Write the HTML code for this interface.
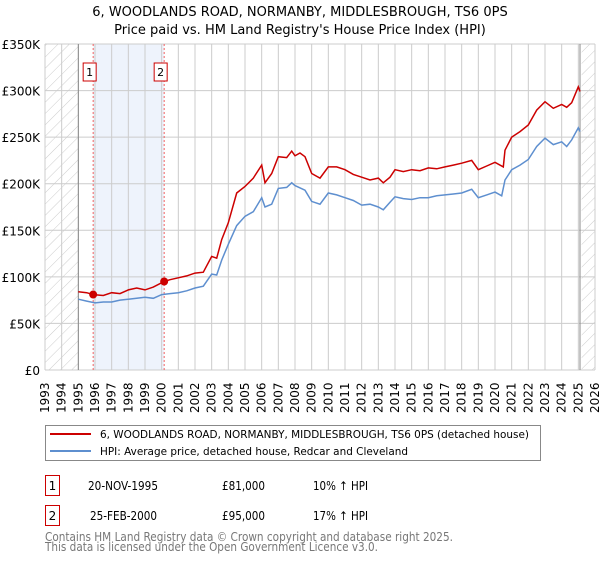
<!DOCTYPE html>
<html><head><meta charset="utf-8"><style>
body{margin:0;background:#fff;font-family:"DejaVu Sans",sans-serif}
svg text{font-family:"DejaVu Sans","Liberation Sans",sans-serif}
</style></head><body>
<svg id="c" width="600" height="560" viewBox="0 0 600 560">
<defs><pattern id="h" width="8" height="8" patternUnits="userSpaceOnUse" patternTransform="rotate(45)"><line x1="0" y1="0" x2="0" y2="8" stroke="#ccc" stroke-width="1"/></pattern></defs>
<text x="300" y="16" text-anchor="middle" font-size="13">6, WOODLANDS ROAD, NORMANBY, MIDDLESBROUGH, TS6 0PS</text>
<text x="300" y="34" text-anchor="middle" font-size="13">Price paid vs. HM Land Registry's House Price Index (HPI)</text>
<g id="grid"></g><g id="marks"></g><g id="axes"></g>
<rect x="45.5" y="425.5" width="495" height="35" fill="#fff" stroke="#888"/>
<line x1="50" y1="434" x2="91" y2="434" stroke="#cc0000" stroke-width="2"/>
<text x="100" y="438" font-size="11" textLength="429" lengthAdjust="spacingAndGlyphs">6, WOODLANDS ROAD, NORMANBY, MIDDLESBROUGH, TS6 0PS (detached house)</text>
<line x1="50" y1="451" x2="91" y2="451" stroke="#5e8fcf" stroke-width="2"/>
<text x="100" y="455" font-size="11" textLength="308" lengthAdjust="spacingAndGlyphs">HPI: Average price, detached house, Redcar and Cleveland</text>
<g>
<rect x="45.5" y="475.5" width="14" height="20" fill="#fff" stroke="#cc0000"/><text x="52.5" y="490" font-size="12" text-anchor="middle">1</text>
<text x="88" y="490" font-size="12" textLength="70" lengthAdjust="spacingAndGlyphs">20-NOV-1995</text><text x="222" y="490" font-size="12" textLength="43" lengthAdjust="spacingAndGlyphs">£81,000</text><text x="313" y="490" font-size="12" textLength="55" lengthAdjust="spacingAndGlyphs">10% ↑ HPI</text></g>
<g>
<rect x="45.5" y="505.5" width="14" height="20" fill="#fff" stroke="#cc0000"/><text x="52.5" y="520" font-size="12" text-anchor="middle">2</text>
<text x="90" y="520" font-size="12" textLength="67" lengthAdjust="spacingAndGlyphs">25-FEB-2000</text><text x="222" y="520" font-size="12" textLength="43" lengthAdjust="spacingAndGlyphs">£95,000</text><text x="313" y="520" font-size="12" textLength="55" lengthAdjust="spacingAndGlyphs">17% ↑ HPI</text></g>
<text x="45" y="541" font-size="12" fill="#777" textLength="408" lengthAdjust="spacingAndGlyphs">Contains HM Land Registry data © Crown copyright and database right 2025.</text>
<text x="45" y="551" font-size="12" fill="#777" textLength="333" lengthAdjust="spacingAndGlyphs">This data is licensed under the Open Government Licence v3.0.</text>
</svg>
<script>
const hpiYears=[1995,1995.5,1996,1996.5,1997,1997.5,1998,1998.5,1999,1999.5,2000,2000.5,2001,2001.5,2002,2002.5,2003,2003.3,2003.6,2004,2004.5,2005,2005.5,2006,2006.2,2006.6,2007,2007.5,2007.8,2008,2008.6,2009,2009.5,2010,2010.5,2011,2011.5,2012,2012.5,2013,2013.3,2013.7,2014,2014.5,2015,2015.5,2016,2016.5,2017,2017.5,2018,2018.6,2019,2019.5,2020,2020.4,2020.6,2021,2021.5,2022,2022.5,2023,2023.5,2024,2024.3,2024.6,2025,2025.1];
const hpiValues=[76,74,72,73,73,75,76,77,78,77,81,82,83,85,88,90,103,102,118,135,155,165,170,185,175,178,195,196,201,198,193,181,178,190,188,185,182,177,178,175,172,180,186,184,183,185,185,187,188,189,190,194,185,188,191,187,204,215,220,226,240,249,242,245,240,247,260,256];
const priceYears=[1995,1995.5,1995.89,1996.5,1997,1997.5,1998,1998.5,1999,1999.5,2000.15,2000.5,2001,2001.5,2002,2002.5,2003,2003.3,2003.6,2004,2004.5,2005,2005.5,2006,2006.2,2006.6,2007,2007.5,2007.8,2008,2008.3,2008.6,2009,2009.5,2010,2010.5,2011,2011.5,2012,2012.5,2013,2013.3,2013.7,2014,2014.5,2015,2015.5,2016,2016.5,2017,2017.5,2018,2018.6,2019,2019.5,2020,2020.5,2020.6,2021,2021.5,2022,2022.5,2023,2023.5,2024,2024.3,2024.6,2025,2025.1];
const priceValues=[84,83,81,80,83,82,86,88,86,89,95,97,99,101,104,105,122,120,140,158,190,197,206,220,201,211,229,228,235,230,233,229,211,206,218,218,215,210,207,204,206,201,207,215,213,215,214,217,216,218,220,222,225,215,219,223,218,236,250,256,263,279,288,281,285,282,287,304,299];
const sales=[[1995.89,81],[2000.15,95]];
const yTicks=[0,50,100,150,200,250,300,350];
const yLabels=["£0","£50K","£100K","£150K","£200K","£250K","£300K","£350K"];
const NS="http://www.w3.org/2000/svg";
const X=y=>45+(y-1993)*550/33, Y=v=>370-v*326/350;
function mk(p,t,a){const e=document.createElementNS(NS,t);for(const k in a)e.setAttribute(k,a[k]);document.getElementById(p).appendChild(e);return e;}
const g='grid';
let e=mk(g,'rect',{x:X(1993),y:Y(350),width:X(1995)-X(1993),height:326,fill:'url(#h)'});


e=mk(g,'rect',{x:X(2025.2),y:Y(350),width:X(2026)-X(2025.2),height:326,fill:'url(#h)'});


e=mk(g,'rect',{x:X(sales[0][0]),y:Y(350),width:X(sales[1][0])-X(sales[0][0]),height:326,fill:'#eef3fc'});


for(let yr=1993;yr<=2026;yr++){e=mk(g,'line',{x1:X(yr),x2:X(yr),y1:Y(0),y2:Y(350),stroke:'#ccc'});


e=mk('axes','text',{x:0,y:0,transform:`translate(${X(yr)+4},413) rotate(-90)`,'font-size':12});e.textContent=yr;

}
yTicks.forEach((v,i)=>{e=mk(g,'line',{x1:X(1993),x2:X(2026),y1:Y(v),y2:Y(v),stroke:'#ccc'});


e=mk('axes','text',{x:40,y:Y(v)+5,'text-anchor':'end','font-size':12});e.textContent=yLabels[i];

});
e=mk(g,'line',{x1:X(1995),x2:X(1995),y1:Y(0),y2:Y(350),stroke:'#888'});


e=mk(g,'line',{x1:X(2025.1),x2:X(2025.1),y1:Y(0),y2:Y(350),stroke:'#888'});


sales.forEach((s,i)=>{e=mk(g,'line',{x1:X(s[0]),x2:X(s[0]),y1:Y(0),y2:Y(350),stroke:'#f06060','stroke-dasharray':'2,2'});


e=mk('marks','rect',{x:X(s[0])-10,y:63,width:13,height:18,fill:'#fff',stroke:'#cc0000'});


e=mk('marks','text',{x:X(s[0])-3.5,y:76,'text-anchor':'middle','font-size':11});e.textContent=i+1;

});
const pts=(xs,vs)=>xs.map((x,i)=>X(x).toFixed(1)+','+Y(vs[i]).toFixed(1)).join(' ');
e=mk('marks','polyline',{points:pts(hpiYears,hpiValues),fill:'none',stroke:'#5e8fcf','stroke-width':1.5});


e=mk('marks','polyline',{points:pts(priceYears,priceValues),fill:'none',stroke:'#cc0000','stroke-width':1.5});


sales.forEach(s=>{e=mk('marks','circle',{cx:X(s[0]),cy:Y(s[1]),r:4,fill:'#cc0000'});

});
</script>
</body></html>
